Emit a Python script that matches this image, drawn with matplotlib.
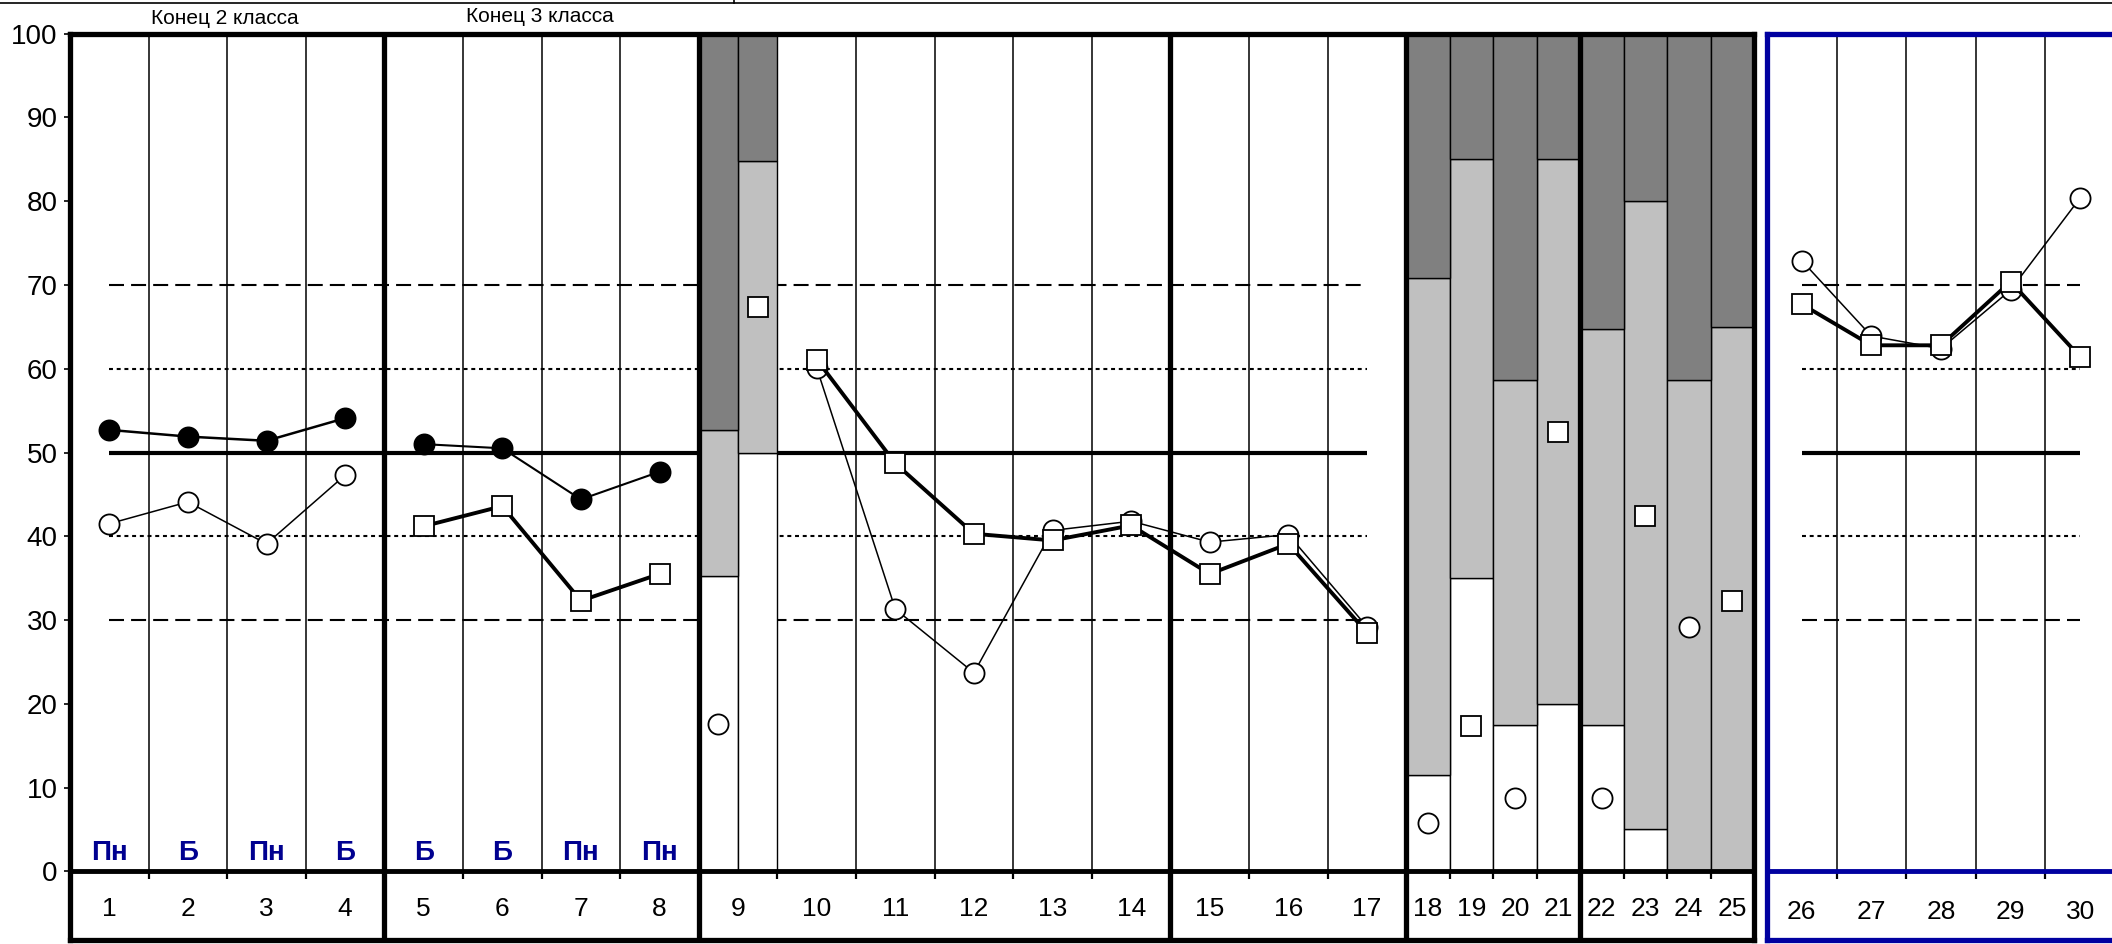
import numpy as np
import matplotlib
matplotlib.use("Agg")
import matplotlib.pyplot as plt
from matplotlib.lines import Line2D

plt.rcParams['font.family'] = ['Liberation Sans', 'DejaVu Sans']

# ---- data ----
cats_a = [1, 2, 3, 4, 5, 6, 7, 8]
type_labels = ['Пн', 'Б', 'Пн', 'Б', 'Б', 'Б', 'Пн', 'Пн']
filled_a = [52.7, 51.9, 51.4, 54.1, 51.0, 50.5, 44.4, 47.7]
circles_a = [41.5, 44.1, 39.1, 47.3]          # cats 1-4
squares_a = [41.2, 43.6, 32.3, 35.5]          # cats 5-8

# cat 9: two stacked bars
bar9_low = [35.2, 50.0]
bar9_mid = [52.7, 84.8]
circle9 = 17.6
square9 = 67.4

cats_b = [10, 11, 12, 13, 14, 15, 16, 17]
squares_b = [61.1, 48.7, 40.3, 39.5, 41.3, 35.5, 39.1, 28.5]
circles_b = [60.1, 31.3, 23.7, 40.7, 41.8, 39.3, 40.2, 29.2]

cats_c = [18, 19, 20, 21, 22, 23, 24, 25]
bar_low = [11.5, 35.0, 17.5, 20.0, 17.5, 5.0, 0.0, 0.0]
bar_mid = [70.8, 85.0, 58.7, 85.0, 64.7, 80.0, 58.7, 65.0]
points_c = [5.8, 17.3, 8.7, 52.5, 8.7, 42.4, 29.2, 32.3]
kinds_c = ['o', 's', 'o', 's', 'o', 's', 'o', 's']

cats_d = [26, 27, 28, 29, 30]
circles_d = [72.9, 63.9, 62.4, 69.4, 80.4]
squares_d = [67.7, 62.8, 62.8, 70.4, 61.4]

ref_levels = [70, 60, 50, 40, 30]

# ---- layout ----
W, H = 2112, 944
BLUE = '#0000a0'
NAVY = '#000090'
DARK = '#808080'
LIGHT = '#c0c0c0'
YMIN = -8.2
NW = 0.553  # width of narrow columns 18-25

def fx(px):
    return px / W

def fy(py):
    return 1 - py / H

fig = plt.figure(figsize=(21.12, 9.44), dpi=100)

ax1 = fig.add_axes([fx(70), fy(940), fx(1754) - fx(70), fy(33.7) - fy(940)])
ax2 = fig.add_axes([fx(1767), fy(940), fx(2115) - fx(1767), fy(33.7) - fy(940)])

x_a = np.arange(8) + 0.5
x_9 = np.array([8.25, 8.75])
x_b = np.arange(8) + 9.5
x_c = 17 + NW * (np.arange(8) + 0.5)
xmax1 = 17 + 8 * NW

thick_x = [4, 8, 14, 17, 17 + 4 * NW]
thin_x = [1, 2, 3, 5, 6, 7, 9, 10, 11, 12, 13, 15, 16] + \
    [17 + NW * k for k in (1, 2, 3, 5, 6, 7)]

dash = (0, (7.2, 3.4))
dot = (0, (1.9, 1.8))
ref_styles = {70: (dash, 1.5), 60: (dot, 1.5), 50: ('-', 3.0), 40: (dot, 1.5), 30: (dash, 1.5)}

# ---- left block ----
ax = ax1
ax.set_xlim(0, xmax1)
ax.set_ylim(YMIN, 100)

for lev in ref_levels:
    ls, lw = ref_styles[lev]
    ax.hlines(lev, 0.5, 16.5, colors='black', linestyles=ls, lw=lw, zorder=2)

ax.vlines(thin_x, 0, 100, colors='black', lw=1.1, zorder=2)

# stacked bars
ax.bar(x_9, bar9_low, width=0.5, color='white', edgecolor='black', lw=1, zorder=3)
ax.bar(x_9, np.subtract(bar9_mid, bar9_low), bottom=bar9_low, width=0.5,
       color=LIGHT, edgecolor='black', lw=1, zorder=3)
ax.bar(x_9, np.subtract(100, bar9_mid), bottom=bar9_mid, width=0.5,
       color=DARK, edgecolor='black', lw=1, zorder=3)
ax.bar(x_c, bar_low, width=NW, color='white', edgecolor='black', lw=1, zorder=3)
ax.bar(x_c, np.subtract(bar_mid, bar_low), bottom=bar_low, width=NW,
       color=LIGHT, edgecolor='black', lw=1, zorder=3)
ax.bar(x_c, np.subtract(100, bar_mid), bottom=bar_mid, width=NW,
       color=DARK, edgecolor='black', lw=1, zorder=3)

ax.vlines(thick_x, YMIN, 100, colors='black', lw=3.8, zorder=6)
ax.axhline(0, color='black', lw=3.5, zorder=6)
ax.vlines(thin_x, -0.9, 0, colors='black', lw=1.6, zorder=6)

mk = dict(ms=14.5, mew=1.3, mec='black', zorder=8)
ax.plot(x_a[:4], filled_a[:4], '-o', color='black', mfc='black', lw=1.8, **mk)
ax.plot(x_a[4:], filled_a[4:], '-o', color='black', mfc='black', lw=1.5, **mk)
ax.plot(x_a[:4], circles_a, '-o', color='black', mfc='white', lw=1.1, **mk)
ax.plot(x_a[4:], squares_a, '-s', color='black', mfc='white', lw=2.8, **mk)

ax.plot(x_9[0], circle9, 'o', mfc='white', **mk)
ax.plot(x_9[1], square9, 's', mfc='white', **mk)

ax.plot(x_b, circles_b, '-o', color='black', mfc='white', lw=1.1, **mk)
ax.plot(x_b, squares_b, '-s', color='black', mfc='white', lw=2.8, **mk)

for xc, v, k in zip(x_c, points_c, kinds_c):
    ax.plot(xc, v, k, mfc='white', **mk)

for xc, t in zip(x_a, type_labels):
    ax.text(xc, 2.2, t, ha='center', va='center', fontsize=20,
            fontweight='bold', color=NAVY, zorder=9)

all_x = list(x_a) + [8.5] + list(x_b) + list(x_c)
all_c = cats_a + [9] + cats_b + cats_c
for xc, c in zip(all_x, all_c):
    ax.text(xc, -4.5, str(c), ha='center', va='center', fontsize=19)

ax.set_xticks([])
ax.set_yticks(range(0, 101, 10))
ax.tick_params(axis='y', direction='out', length=4, width=1.2, pad=5, labelsize=20)
for s in ax.spines.values():
    s.set_linewidth(3.8)
    s.set_zorder(7)

# ---- right block (blue frame) ----
ax = ax2
ax.set_xlim(0, 5)
ax.set_ylim(YMIN, 100)
x_d = np.arange(5) + 0.5
for lev in ref_levels:
    ls, lw = ref_styles[lev]
    ax.hlines(lev, 0.5, 4.5, colors='black', linestyles=ls, lw=lw, zorder=2)
ax.vlines([1, 2, 3, 4], 0, 100, colors='black', lw=1.1, zorder=2)
ax.vlines([1, 2, 3, 4], -0.9, 0, colors='black', lw=1.6, zorder=6)
ax.axhline(0, color=BLUE, lw=3.5, zorder=6)
ax.plot(x_d, circles_d, '-o', color='black', mfc='white', lw=1.1, **mk)
ax.plot(x_d, squares_d, '-s', color='black', mfc='white', lw=2.8, **mk)
for xc, c in zip(x_d, cats_d):
    ax.text(xc, -4.8, str(c), ha='center', va='center', fontsize=19)
ax.set_xticks([])
ax.set_yticks([])
for s in ax.spines.values():
    s.set_linewidth(3.8)
    s.set_color(BLUE)
    s.set_zorder(7)

# ---- header ----
fig.text(fx(225), fy(19), 'Конец 2 класса', ha='center', va='center', fontsize=15)
fig.text(fx(540), fy(17), 'Конец 3 класса', ha='center', va='center', fontsize=15)
fig.add_artist(Line2D([0, 1], [fy(3), fy(3)], color='black', lw=1.2))
fig.add_artist(Line2D([fx(734), fx(734)], [fy(3), 1], color='black', lw=1.2))

fig.savefig('out.png', dpi=100)
